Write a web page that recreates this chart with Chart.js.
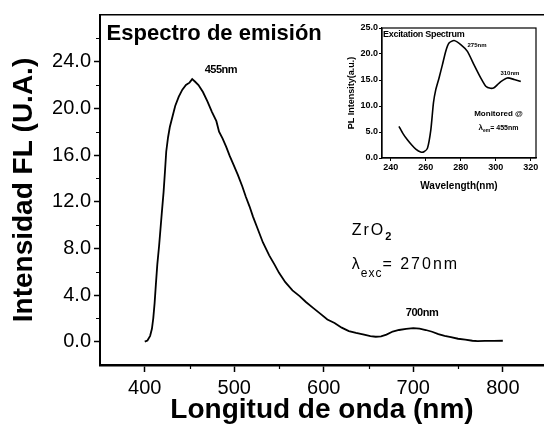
<!DOCTYPE html>
<html>
<head>
<meta charset="utf-8">
<script src="https://cdn.jsdelivr.net/npm/chart.js@4.4.0/dist/chart.umd.min.js"></script>
<style>
    html, body { margin: 0; padding: 0; background: #fff; }
    #wrap { position: relative; width: 544px; height: 428px; }
    #main { position: absolute; left: 0; top: 0; }
    #inset { position: absolute; left: 335px; top: 15px; }
</style>
</head>
<body>
<div id="wrap">
    <canvas id="main" width="544" height="428"></canvas>
    <canvas id="inset" width="209" height="180"></canvas>
</div>
<script>
/* ============================================================================
   DATA
   ============================================================================ */
// emission spectrum (main plot)
const emWavelength = [400, 403, 406, 408, 409.5, 411, 412.5, 414, 416, 419, 421, 422.5, 424, 426, 428,
    431, 434, 438, 442, 446, 450, 453, 456, 460, 465, 470, 475, 480, 483, 487, 491, 495, 499, 504, 509,
    513, 517, 521, 526, 532, 539, 545, 550, 557, 565, 573, 580, 588, 596, 604, 612, 620, 628, 636, 645,
    652, 658, 664, 670, 677, 684, 692, 700, 707, 714, 721, 728, 735, 742, 750, 758, 766, 772, 780, 790, 800];
const emIntensity = [0, 0.1, 0.5, 1.1, 2.0, 3.3, 5.0, 6.6, 8.2, 11.0, 12.8, 14.5, 16.3, 17.5, 18.4,
    19.3, 20.2, 21.0, 21.6, 22.0, 22.2, 22.5, 22.3, 22.0, 21.4, 20.6, 19.7, 18.9, 18.0, 17.4, 16.7, 15.9, 15.2, 14.3, 13.3,
    12.4, 11.6, 10.7, 9.7, 8.5, 7.4, 6.6, 5.9, 5.1, 4.4, 3.9, 3.4, 2.9, 2.4, 1.9, 1.6, 1.2, 0.9, 0.75, 0.6,
    0.47, 0.42, 0.45, 0.6, 0.87, 1.0, 1.1, 1.16, 1.12, 1.0, 0.85, 0.65, 0.5, 0.38, 0.25, 0.18, 0.08, 0.04, 0.06, 0.07, 0.08];

const xTicks = [400, 500, 600, 700, 800];
const xMinor = [450, 550, 650, 750];
const yTicks = [0, 4, 8, 12, 16, 20, 24];
const yMinor = [2, 6, 10, 14, 18, 22, 26];

// excitation spectrum (inset)
const exWavelength = [244.7, 247, 249.5, 252, 254.3, 257.1, 259, 261, 262.9, 264.4, 265.7, 267.6, 269.5, 271.4,
    273.3, 276.2, 280, 283.8, 287.6, 291.4, 294.3, 297, 299, 301, 302.9, 306.7, 310.5, 314.3];
const exIntensity = [6.1, 4.7, 3.5, 2.5, 1.7, 1.15, 1.2, 1.9, 5.4, 10.6, 13.1, 15.4, 17.9, 20.5,
    22.1, 22.6, 21.8, 20.5, 17.9, 15.4, 13.8, 13.4, 13.5, 14.1, 14.7, 15.4, 15.1, 14.7];

const exXTicks = [240, 260, 280, 300, 320];
const exYTicks = [0, 5, 10, 15, 20, 25];

/* ============================================================================
   DEFAULTS + SMALL PLUGINS
   ============================================================================ */
Chart.defaults.font.family = "'Liberation Sans', Arial, sans-serif";
Chart.defaults.color = "#000";

const FONT = "'Liberation Sans', Arial, sans-serif";

// text placed at data coordinates, baseline = y; runs allow subscripts
const textPlugin = {
    id: "textPlugin",
    afterDatasetsDraw(chart, args, opts) {
        const { ctx, scales } = chart;
        ctx.save();
        ctx.fillStyle = "#000";
        ctx.textBaseline = "alphabetic";
        ctx.textAlign = "left";
        (opts.items || []).forEach(item => {
            let px = scales.x.getPixelForValue(item.x);
            const py = scales.y.getPixelForValue(item.y);
            let total = 0;
            item.runs.forEach(r => {
                ctx.font = r.font;
                ctx.letterSpacing = r.spacing || "0px";
                total += ctx.measureText(r.text).width;
            });
            if (item.align === "center") px -= total / 2;
            item.runs.forEach(r => {
                ctx.font = r.font;
                ctx.letterSpacing = r.spacing || "0px";
                ctx.fillText(r.text, px, py + (r.dy || 0));
                px += ctx.measureText(r.text).width;
            });
        });
        ctx.letterSpacing = "0px";
        ctx.restore();
    }
};

const minorTicks = {
    id: "minorTicks",
    afterDraw(chart, args, opts) {
        const { ctx, scales: { x, y } } = chart;
        ctx.save();
        ctx.strokeStyle = "#000";
        ctx.lineWidth = opts.width || 1;
        ctx.beginPath();
        (opts.x || []).forEach(v => {
            const p = Math.round(x.getPixelForValue(v)) + 0.5;
            ctx.moveTo(p, x.top);
            ctx.lineTo(p, x.top + opts.len);
        });
        (opts.y || []).forEach(v => {
            const p = Math.round(y.getPixelForValue(v)) + 0.5;
            ctx.moveTo(y.right, p);
            ctx.lineTo(y.right - opts.len, p);
        });
        ctx.stroke();
        ctx.restore();
    }
};

const boxFrame = {
    id: "boxFrame",
    afterDraw(chart) {
        const { ctx, chartArea: a } = chart;
        ctx.save();
        ctx.strokeStyle = "#000";
        ctx.lineWidth = 1.2;
        ctx.strokeRect(a.left, a.top, a.width, a.height);
        ctx.restore();
    }
};

/* ============================================================================
   MAIN CHART — Espectro de emisión
   ============================================================================ */
new Chart(document.getElementById("main"), {
    type: "line",
    data: {
        datasets: [{
            data: emWavelength.map((w, i) => ({ x: w, y: emIntensity[i] })),
            borderColor: "#000",
            borderWidth: 1.8,
            pointRadius: 0,
            tension: 0,
            fill: false
        }]
    },
    options: {
        responsive: false,
        animation: false,
        layout: { padding: 0 },
        plugins: {
            legend: { display: false },
            tooltip: { enabled: false },
            minorTicks: { x: xMinor, y: yMinor, len: 4, width: 1.2 },
            textPlugin: {
                items: [
                    { x: 357.4, y: 25.88, runs: [{ text: "Espectro de emisión", font: `bold 22px ${FONT}` }] },
                    { x: 485, y: 23.07, align: "center", runs: [{ text: "455nm", font: `bold 11px ${FONT}`, spacing: "-0.5px" }] },
                    { x: 709.7, y: 2.17, align: "center", runs: [{ text: "700nm", font: `bold 11px ${FONT}`, spacing: "-0.5px" }] },
                    { x: 631.2, y: 9.14, runs: [
                        { text: "ZrO", font: `16px ${FONT}`, spacing: "2px" },
                        { text: "2", font: `bold 11px ${FONT}`, dy: 5 }
                    ] },
                    { x: 631.2, y: 6.25, runs: [
                        { text: "λ", font: `16px ${FONT}`, spacing: "1px" },
                        { text: "exc", font: `12px ${FONT}`, spacing: "1px", dy: 8 },
                        { text: "= 270nm", font: `16px ${FONT}`, spacing: "2px" }
                    ] }
                ]
            }
        },
        scales: {
            x: {
                type: "linear",
                min: 350,
                max: 846,
                afterBuildTicks: s => { s.ticks = xTicks.map(v => ({ value: v })); },
                afterFit: s => { s.height = 63; },
                border: { color: "#000", width: 2.5 },
                grid: { drawOnChartArea: false, tickLength: 7, tickColor: "#000", tickWidth: 1.5 },
                ticks: { color: "#000", font: { size: 20 }, padding: 4, maxRotation: 0, callback: v => String(v) },
                title: {
                    display: true,
                    text: "Longitud de onda (nm)",
                    color: "#000",
                    font: { size: 28, weight: "bold" },
                    padding: { top: 0, bottom: 1 }
                }
            },
            x2: {
                type: "linear",
                position: "top",
                min: 350,
                max: 846,
                afterFit: s => { s.height = 12; },
                border: { color: "#000", width: 1.5 },
                grid: { drawOnChartArea: false, drawTicks: false },
                ticks: { display: false }
            },
            y: {
                type: "linear",
                min: -2,
                max: 28,
                afterBuildTicks: s => { s.ticks = yTicks.map(v => ({ value: v })); },
                afterFit: s => { s.width = 100; },
                border: { color: "#000", width: 2 },
                grid: { drawOnChartArea: false, tickLength: 6, tickColor: "#000", tickWidth: 1.5 },
                ticks: { color: "#000", font: { size: 20 }, padding: 3, callback: v => v.toFixed(1) },
                title: {
                    display: true,
                    text: "Intensidad FL (U.A.)",
                    color: "#000",
                    font: { size: 28, weight: "bold" },
                    padding: { top: 7, bottom: 0 }
                }
            }
        }
    },
    plugins: [textPlugin, minorTicks]
});

/* ============================================================================
   INSET — Excitation Spectrum
   ============================================================================ */
new Chart(document.getElementById("inset"), {
    type: "line",
    data: {
        datasets: [{
            data: exWavelength.map((w, i) => ({ x: w, y: exIntensity[i] })),
            borderColor: "#000",
            borderWidth: 1.6,
            pointRadius: 0,
            tension: 0.2,
            fill: false
        }]
    },
    options: {
        responsive: false,
        animation: false,
        layout: { padding: { top: 13, right: 8, left: 0, bottom: 0 } },
        plugins: {
            legend: { display: false },
            tooltip: { enabled: false },
            textPlugin: {
                items: [
                    { x: 235.6, y: 23.3, runs: [{ text: "Excitation Spectrum", font: `bold 9px ${FONT}`, spacing: "-0.3px" }] },
                    { x: 289.3, y: 21.4, align: "center", runs: [{ text: "275nm", font: `bold 6px ${FONT}` }] },
                    { x: 308.1, y: 16.0, align: "center", runs: [{ text: "310nm", font: `bold 6px ${FONT}` }] },
                    { x: 301.6, y: 8.13, align: "center", runs: [{ text: "Monitored @", font: `bold 8px ${FONT}` }] },
                    { x: 301.6, y: 5.44, align: "center", runs: [
                        { text: "λ", font: `bold 8px ${FONT}` },
                        { text: "em", font: `bold 5px ${FONT}`, dy: 2 },
                        { text: "= 455nm", font: `bold 7px ${FONT}` }
                    ] }
                ]
            }
        },
        scales: {
            x: {
                type: "linear",
                min: 235,
                max: 323,
                afterBuildTicks: s => { s.ticks = exXTicks.map(v => ({ value: v })); },
                afterFit: s => { s.height = 37; },
                border: { color: "#000", width: 1.2 },
                grid: { drawOnChartArea: false, tickLength: 3, tickColor: "#000" },
                ticks: { color: "#000", font: { size: 9, weight: "bold" }, padding: 1, maxRotation: 0, callback: v => String(v) },
                title: {
                    display: true,
                    text: "Wavelength(nm)",
                    color: "#000",
                    font: { size: 10, weight: "bold" },
                    padding: { top: 0, bottom: 3 }
                }
            },
            y: {
                type: "linear",
                min: 0,
                max: 25,
                afterBuildTicks: s => { s.ticks = exYTicks.map(v => ({ value: v })); },
                afterFit: s => { s.width = 47; },
                border: { color: "#000", width: 1.2 },
                grid: { drawOnChartArea: false, tickLength: 3, tickColor: "#000" },
                ticks: { color: "#000", font: { size: 9, weight: "bold" }, padding: 1, callback: v => v.toFixed(1) },
                title: {
                    display: true,
                    text: "PL Intensity(a.u.)",
                    color: "#000",
                    font: { size: 9, weight: "bold" },
                    padding: { top: 11, bottom: 0 }
                }
            }
        }
    },
    plugins: [textPlugin, boxFrame]
});
</script>
</body>
</html>
